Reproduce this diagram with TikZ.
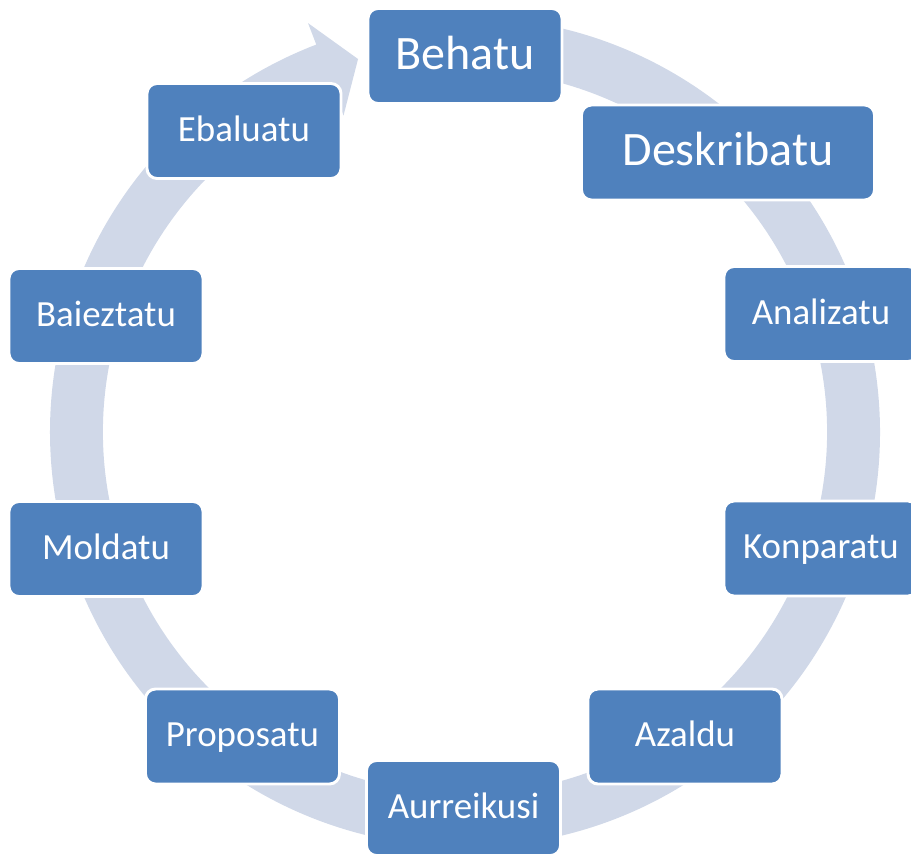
\documentclass[tikz,border=0pt]{standalone}
\usepackage{fontspec}
\setmainfont{Carlito}
\definecolor{boxblue}{HTML}{4F81BD}
\definecolor{ringgrey}{HTML}{D0D8E8}

\begin{document}
\begin{tikzpicture}[x=0.03cm,y=0.03cm,
stepbox/.style={draw=white,fill=boxblue,rectangle,rounded corners=0.3cm,line width=2.5pt,minimum width=5.82cm,minimum height=2.85cm,inner sep=0pt,text=white,font=\fontsize{31.5}{37}\selectfont,text height=0.83cm,text depth=0.22cm},
bigbox/.style={stepbox,font=\fontsize{41}{49}\selectfont,text height=1.08cm,text depth=0.28cm},
ring/.style={fill=ringgrey}]

\useasboundingbox (0,0) rectangle (911,-855);

% the ring, arrow head ends at Behatu
\fill[ring,shift={(465,-432)}] (95:415) arc[start angle=95,end angle=-249,radius=415] -- (-249:438) -- (-254:388) -- (-249:339) -- (-249:362) arc[start angle=-249,end angle=95,radius=362] -- cycle;

\draw (465,-56) node[bigbox] (Behatu) {Behatu};
\draw (728,-152.5) node[bigbox,minimum width=8.79cm] (Deskribatu) {Deskribatu};
\draw (821,-314) node[stepbox] (Analizatu) {Analizatu};
\draw (821,-548.5) node[stepbox] (Konparatu) {Konparatu};
\draw (685,-736.5) node[stepbox] (Azaldu) {Azaldu};
\draw (463.5,-808) node[stepbox] (Aurreikusi) {Aurreikusi};
\draw (242.5,-736.5) node[stepbox] (Proposatu) {Proposatu};
\draw (106,-549) node[stepbox] (Moldatu) {Moldatu};
\draw (106,-316) node[stepbox] (Baieztatu) {Baieztatu};
\draw (244,-131) node[stepbox] (Ebaluatu) {Ebaluatu};
%\draw (465,-432) node {x};

\end{tikzpicture}
\end{document}
